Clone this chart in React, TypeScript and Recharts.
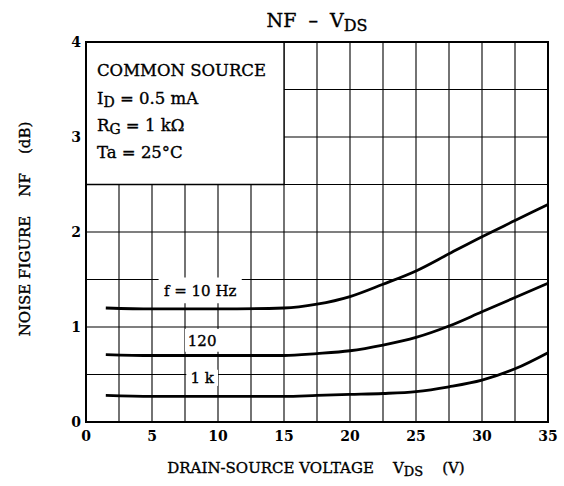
import { LineChart, Line, XAxis, YAxis, CartesianGrid, ReferenceArea, Label } from "recharts";

// V_DS sample points (V)
const vds = [1.5, 5, 10, 15, 17.5, 20, 22.5, 25, 27.5, 30, 32.5, 35];
// noise figure (dB) per frequency
const nf10Hz = [1.2, 1.19, 1.19, 1.2, 1.24, 1.32, 1.45, 1.59, 1.77, 1.95, 2.12, 2.29];
const nf120Hz = [0.71, 0.7, 0.7, 0.7, 0.72, 0.75, 0.81, 0.89, 1.01, 1.16, 1.31, 1.46];
const nf1kHz = [0.28, 0.27, 0.27, 0.27, 0.28, 0.29, 0.3, 0.32, 0.37, 0.44, 0.56, 0.73];

const xTicks = [0, 2.5, 5, 7.5, 10, 12.5, 15, 17.5, 20, 22.5, 25, 27.5, 30, 32.5, 35];
const yTicks = [0, 0.5, 1, 1.5, 2, 2.5, 3, 3.5, 4];

const data = vds.map((v, i) => ({ vds: v, f10: nf10Hz[i], f120: nf120Hz[i], f1k: nf1kHz[i] }));

const serif = "'DejaVu Serif', serif";
const tickStyle = { fill: "#000", fontSize: 14, fontWeight: 700, fontFamily: serif };
const curveLabel = { fill: "#000", fontSize: 15, fontFamily: serif, stroke: "#000", strokeWidth: 0.35 };

export default function App() {
  return (
    <div style={{ position: "absolute", left: 0, top: 0, width: 564, height: 486, background: "#fff" }}>
      <LineChart width={564} height={486} data={data} margin={{ top: 42, right: 16, bottom: 34, left: 46 }}>
        <CartesianGrid stroke="#000" strokeWidth={1.1} />
        <XAxis
          dataKey="vds"
          type="number"
          domain={[0, 35]}
          ticks={xTicks}
          interval={0}
          height={30}
          tickLine={false}
          axisLine={false}
          tickSize={0}
          tickMargin={9}
          tick={tickStyle}
          tickFormatter={(v: number) => (v % 5 === 0 ? String(v) : "")}
        />
        <YAxis
          type="number"
          domain={[0, 4]}
          ticks={yTicks}
          interval={0}
          width={40}
          tickLine={false}
          axisLine={false}
          tickSize={0}
          tickMargin={5}
          tick={tickStyle}
          tickFormatter={(v: number) => (v % 1 === 0 ? String(v) : "")}
        />
        {/* condition box, no grid inside */}
        <ReferenceArea x1={0} x2={15} y1={2.5} y2={4} fill="#fff" fillOpacity={1} stroke="#000" strokeWidth={1.3} />
        {/* white backing behind curve labels */}
        <ReferenceArea x1={5.5} x2={11.8} y1={1.25} y2={1.52} fill="#fff" fillOpacity={1} stroke="none">
          <Label value="f = 10 Hz" position="center" style={curveLabel} />
        </ReferenceArea>
        <ReferenceArea x1={7.5} x2={10.1} y1={0.74} y2={0.98} fill="#fff" fillOpacity={1} stroke="none">
          <Label value="120" position="center" style={curveLabel} />
        </ReferenceArea>
        <ReferenceArea x1={7.6} x2={10} y1={0.38} y2={0.55} fill="#fff" fillOpacity={1} stroke="none">
          <Label value="1 k" position="center" style={curveLabel} />
        </ReferenceArea>
        <ReferenceArea x1={0} x2={35} y1={0} y2={4} fill="none" stroke="#000" strokeWidth={2} />
        <Line dataKey="f10" type="monotone" stroke="#000" strokeWidth={2.8} dot={false} isAnimationActive={false} />
        <Line dataKey="f120" type="monotone" stroke="#000" strokeWidth={2.8} dot={false} isAnimationActive={false} />
        <Line dataKey="f1k" type="monotone" stroke="#000" strokeWidth={2.8} dot={false} isAnimationActive={false} />
      </LineChart>
      <svg
        width={564}
        height={486}
        style={{ position: "absolute", left: 0, top: 0, pointerEvents: "none" }}
        fontFamily={serif}
        fill="#000"
        stroke="#000"
        strokeWidth={0.35}
      >
        <text x={317} y={27} fontSize={19} textAnchor="middle" xmlSpace="preserve">
          NF  –  V<tspan fontSize={16} dy={4}>DS</tspan>
        </text>
        <g fontSize={16.5}>
          <text x={97} y={76}>COMMON SOURCE</text>
          <text x={97} y={104}>
            I<tspan fontSize={14} dy={3}>D</tspan>
            <tspan dy={-3}> = 0.5 mA</tspan>
          </text>
          <text x={97} y={131}>
            R<tspan fontSize={14} dy={3}>G</tspan>
            <tspan dy={-3}> = 1 kΩ</tspan>
          </text>
          <text x={97} y={158}>Ta = 25°C</text>
        </g>
        <text x={316} y={473} fontSize={15} textAnchor="middle" xmlSpace="preserve">
          DRAIN-SOURCE VOLTAGE    V<tspan fontSize={13} dy={3}>DS</tspan>
          <tspan dy={-3}>    (V)</tspan>
        </text>
        <text
          x={0}
          y={0}
          fontSize={15}
          textAnchor="middle"
          xmlSpace="preserve"
          transform="translate(30 229) rotate(-90)"
        >
          NOISE FIGURE    NF    (dB)
        </text>
      </svg>
    </div>
  );
}
